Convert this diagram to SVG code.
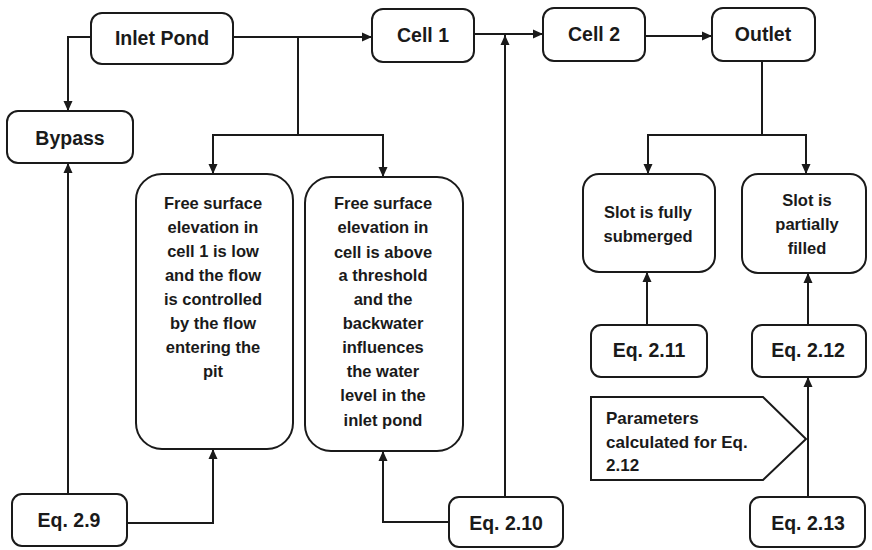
<svg xmlns="http://www.w3.org/2000/svg" width="872" height="550" viewBox="0 0 872 550">
<defs>
<marker id="ah" viewBox="0 0 10 10" refX="10" refY="5" markerWidth="10" markerHeight="10" markerUnits="userSpaceOnUse" orient="auto">
<path d="M0,0.5 L10,5 L0,9.5 Z" fill="#1a1a1a"/>
</marker>
<style>
.box{fill:#fff;stroke:#1a1a1a;stroke-width:2}
.ln{fill:none;stroke:#1a1a1a;stroke-width:2}
.ar{fill:none;stroke:#1a1a1a;stroke-width:2;marker-end:url(#ah)}
text{font-family:"Liberation Sans",Arial,sans-serif;font-weight:bold;fill:#1a1a1a;text-anchor:middle;dominant-baseline:central}
.big{font-size:19.5px}
.mid{font-size:16.5px}
.par{font-size:17px;text-anchor:start}
</style>
</defs>
<rect width="872" height="550" fill="#fff"/>
<g id="connectors">
<path class="ar" d="M91,37 H68 V111"/>
<path class="ar" d="M233,37 H372"/>
<path class="ln" d="M298,37 V135"/>
<path class="ar" d="M298,135 H213 V174"/>
<path class="ar" d="M298,135 H383 V177"/>
<path class="ar" d="M474,34 H543"/>
<path class="ar" d="M645,36 H712"/>
<path class="ar" d="M505,497 V35"/>
<path class="ln" d="M762,61 V135"/>
<path class="ar" d="M762,135 H648 V174"/>
<path class="ar" d="M762,135 H806 V174"/>
<path class="ar" d="M68,494 V163"/>
<path class="ar" d="M127,523 H213 V449"/>
<path class="ar" d="M449,522 H383 V451"/>
<path class="ar" d="M647,325 V272"/>
<path class="ar" d="M808,325 V273"/>
<path class="ar" d="M808,497 V377"/>
</g>
<g id="inlet-pond"><rect class="box" x="91" y="13" width="142" height="51" rx="11"/><text class="big" x="162" y="38">Inlet Pond</text></g>
<g id="bypass"><rect class="box" x="7" y="111" width="126" height="52" rx="11"/><text class="big" x="70" y="138">Bypass</text></g>
<g id="cell1"><rect class="box" x="372" y="9" width="102" height="53" rx="11"/><text class="big" x="423" y="35">Cell 1</text></g>
<g id="cell2"><rect class="box" x="543" y="8" width="102" height="53" rx="11"/><text class="big" x="594" y="34">Cell 2</text></g>
<g id="outlet"><rect class="box" x="712" y="8" width="103" height="53" rx="11"/><text class="big" x="763" y="34">Outlet</text></g>
<g id="free1"><rect class="box" x="136" y="174" width="157" height="275" rx="26"/>
<text class="mid" x="213" y="203">Free surface</text>
<text class="mid" x="213" y="227">elevation in</text>
<text class="mid" x="213" y="251">cell 1 is low</text>
<text class="mid" x="213" y="275">and the flow</text>
<text class="mid" x="213" y="299">is controlled</text>
<text class="mid" x="213" y="323">by the flow</text>
<text class="mid" x="213" y="347">entering the</text>
<text class="mid" x="213" y="371">pit</text>
</g>
<g id="free2"><rect class="box" x="305" y="177" width="158" height="274" rx="26"/>
<text class="mid" x="383" y="203">Free surface</text>
<text class="mid" x="383" y="227">elevation in</text>
<text class="mid" x="383" y="252">cell is above</text>
<text class="mid" x="383" y="275">a threshold</text>
<text class="mid" x="383" y="299">and the</text>
<text class="mid" x="383" y="323">backwater</text>
<text class="mid" x="383" y="347">influences</text>
<text class="mid" x="383" y="371">the water</text>
<text class="mid" x="383" y="395">level in the</text>
<text class="mid" x="383" y="420">inlet pond</text>
</g>
<g id="slot-full"><rect class="box" x="583" y="174" width="132" height="98" rx="16"/>
<text class="mid" x="648" y="212">Slot is fully</text>
<text class="mid" x="648" y="236">submerged</text>
</g>
<g id="slot-partial"><rect class="box" x="742" y="174" width="124" height="99" rx="16"/>
<text class="mid" x="807" y="200">Slot is</text>
<text class="mid" x="807" y="224">partially</text>
<text class="mid" x="807" y="248">filled</text>
</g>
<g id="eq211"><rect class="box" x="591" y="325" width="116" height="52" rx="10"/><text class="big" x="649" y="350">Eq. 2.11</text></g>
<g id="eq212"><rect class="box" x="752" y="325" width="114" height="52" rx="10"/><text class="big" x="808" y="350">Eq. 2.12</text></g>
<g id="eq213"><rect class="box" x="750" y="497" width="115" height="50" rx="10"/><text class="big" x="808" y="523">Eq. 2.13</text></g>
<g id="eq210"><rect class="box" x="449" y="497" width="114" height="50" rx="10"/><text class="big" x="506" y="523">Eq. 2.10</text></g>
<g id="eq29"><rect class="box" x="12" y="494" width="115" height="52" rx="10"/><text class="big" x="69" y="520">Eq. 2.9</text></g>
<g id="parameters"><path class="box" d="M591,397 H763 L806,439 L763,480 H591 Z"/>
<text class="par" x="606" y="418">Parameters</text>
<text class="par" x="606" y="442">calculated for Eq.</text>
<text class="par" x="606" y="465">2.12</text>
</g>
</svg>
